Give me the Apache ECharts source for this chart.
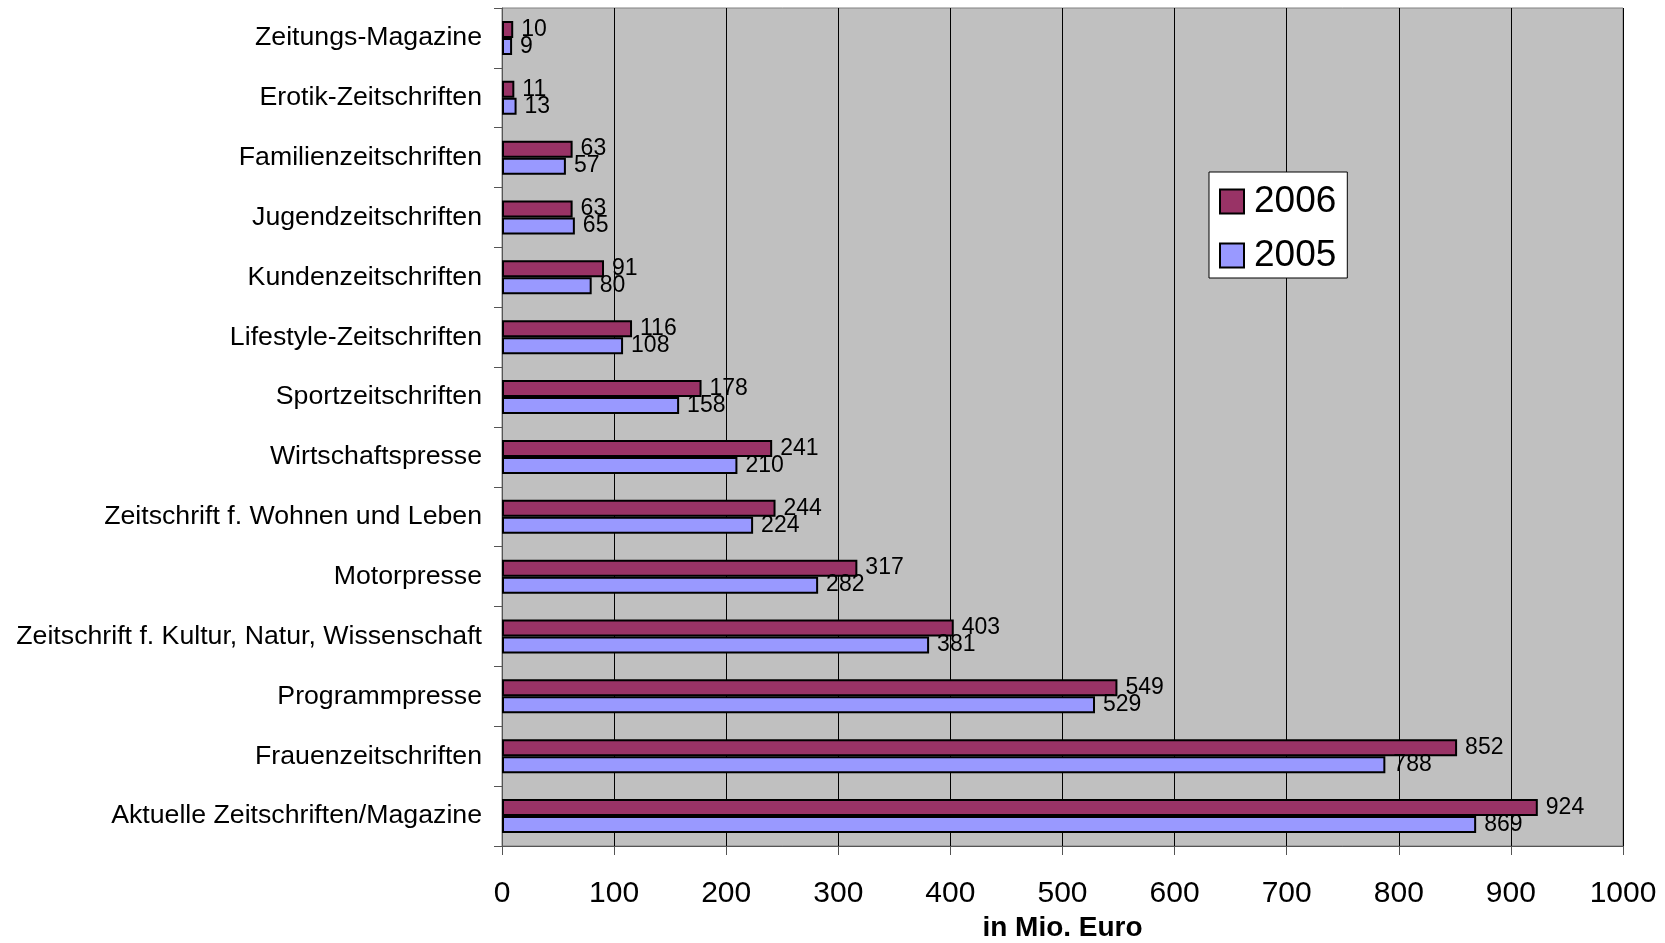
<!DOCTYPE html>
<html><head><meta charset="utf-8">
<script src="https://cdn.jsdelivr.net/npm/echarts@6/dist/echarts.min.js"></script>
<style>html,body{margin:0;padding:0;background:#fff}#c{width:1665px;height:943px}</style>
</head><body><div id="c"></div>
<script>
const categories = ["Aktuelle Zeitschriften/Magazine","Frauenzeitschriften","Programmpresse","Zeitschrift f. Kultur, Natur, Wissenschaft","Motorpresse","Zeitschrift f. Wohnen und Leben","Wirtschaftspresse","Sportzeitschriften","Lifestyle-Zeitschriften","Kundenzeitschriften","Jugendzeitschriften","Familienzeitschriften","Erotik-Zeitschriften","Zeitungs-Magazine"];
const values2006 = [924,852,549,403,317,244,241,178,116,91,63,63,11,10];
const values2005 = [869,788,529,381,282,224,210,158,108,80,65,57,13,9];
const xTicks = [0,100,200,300,400,500,600,700,800,900,1000];

const font = "Liberation Sans, Arial, sans-serif";
const chart = echarts.init(document.getElementById('c'));
const lbl = {show:true, position:'right', distance:8, color:'#000', fontSize:23, fontFamily:font};
chart.setOption({
  animation:false,
  grid:{left:502, right:42, top:8, height:838, outerBoundsMode:'none', containLabel:false, show:true, backgroundColor:'#c0c0c0', borderColor:'#808080', borderWidth:1},
  legend:{
    data:['2006','2005'], orient:'vertical', left:1209, top:172,
    padding:[11,11,4,10], itemGap:17, itemWidth:24, itemHeight:24,
    backgroundColor:'#fff', borderColor:'#000', borderWidth:1,
    icon:'rect', itemStyle:{borderColor:'#000', borderWidth:2},
    textStyle:{fontSize:37, fontFamily:font, color:'#000', padding:[0,0,0,5]}
  },
  xAxis:{
    type:'value', min:xTicks[0], max:xTicks[xTicks.length-1], interval:100,
    name:'in Mio. Euro', nameLocation:'middle', nameGap:68,
    nameTextStyle:{fontSize:28, fontWeight:'bold', fontFamily:font, color:'#000'},
    axisLine:{show:true, lineStyle:{color:'#555', width:1}},
    axisTick:{show:true, length:9, lineStyle:{color:'#555'}},
    axisLabel:{fontSize:30, fontFamily:font, color:'#000', margin:33, formatter:(v)=>String(v)},
    splitLine:{show:true, lineStyle:{color:'#000', width:1}}
  },
  yAxis:{
    type:'category', data:categories,
    axisLine:{show:true, lineStyle:{color:'#555', width:1}},
    axisTick:{show:true, length:8, lineStyle:{color:'#555'}},
    axisLabel:{fontSize:26.7, fontFamily:font, color:'#000', margin:20}
  },
  series:[
    {name:'2006', type:'bar', data:values2006, barWidth:17, barGap:'0%',
     itemStyle:{color:'#993366', borderColor:'#000', borderWidth:2}, label:lbl},
    {name:'2005', type:'bar', data:values2005, barWidth:17, barGap:'0%',
     itemStyle:{color:'#9999ff', borderColor:'#000', borderWidth:2}, label:lbl}
  ]
});
</script></body></html>
